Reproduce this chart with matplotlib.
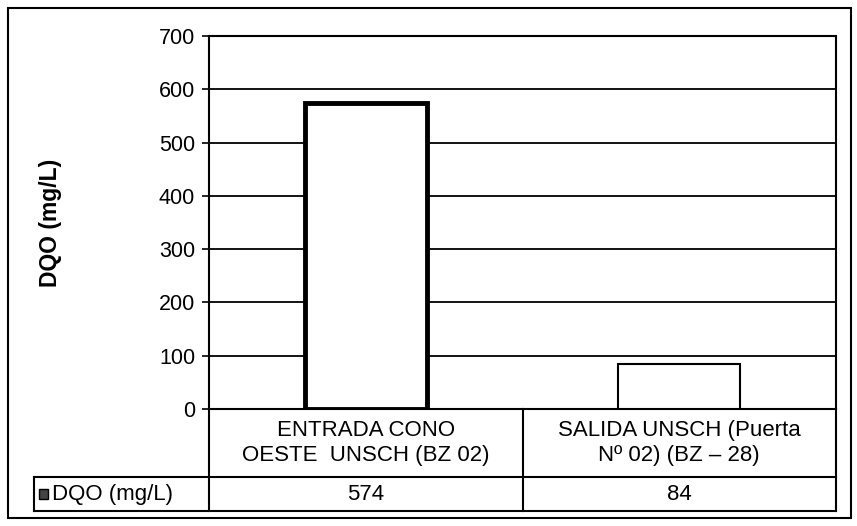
import matplotlib.pyplot as plt
from matplotlib.lines import Line2D
from matplotlib.patches import Rectangle

plt.rcParams['font.family'] = ['Liberation Sans', 'DejaVu Sans']

categories = ["ENTRADA CONO\nOESTE  UNSCH (BZ 02)", "SALIDA UNSCH (Puerta\nNº 02) (BZ \u2013 28)"]
dqo = [574, 84]
series_name = "DQO (mg/L)"
yticks = [0, 100, 200, 300, 400, 500, 600, 700]

fig = plt.figure(figsize=(8.57, 5.26), dpi=100)
ax = fig.add_axes([209/857, 1-409/526, 627/857, 373/526])

x = range(len(dqo))
ax.bar(x, dqo, width=0.39, color='white', edgecolor='black', linewidth=[3.5, 1.5], zorder=3)
ax.set_xlim(-0.5, len(dqo) - 0.5)
ax.set_ylim(0, 700)
ax.set_yticks(yticks)
ax.set_yticklabels([str(v) for v in yticks], fontsize=15.5)
ax.tick_params(axis='y', length=5, width=1.2, pad=5)
ax.set_xticks([])
ax.yaxis.grid(True, color='black', linewidth=1.3)
ax.set_axisbelow(True)
for s in ax.spines.values():
    s.set_linewidth(1.5)
ax.set_ylabel(series_name, fontsize=16.5, fontweight='bold', labelpad=70)

# data table below the plot
tr = ax.transAxes
r1, r2 = -0.1823, -0.2735
left = -0.279
lw = 1.5
def hline(y, x0, x1):
    ax.add_line(Line2D([x0, x1], [y, y], transform=tr, color='black', lw=lw, clip_on=False))
def vline(xv, y0, y1):
    ax.add_line(Line2D([xv, xv], [y0, y1], transform=tr, color='black', lw=lw, clip_on=False))
hline(r1, left, 1)
hline(r2, left, 1)
vline(0, 0, r2)
vline(0.5, 0, r2)
vline(1, 0, r2)
vline(left, r1, r2)

for i, (c, v) in enumerate(zip(categories, dqo)):
    xc = (i + 0.5) / len(dqo)
    ax.text(xc, r1 / 2, c, transform=tr, ha='center', va='center', fontsize=16, linespacing=1.2)
    ax.text(xc, (r1 + r2) / 2, str(v), transform=tr, ha='center', va='center', fontsize=16)

ax.add_patch(Rectangle((left + 0.008, (r1 + r2) / 2 - 0.014), 0.014, 0.028, transform=tr,
                       facecolor='#444444', edgecolor='black', lw=1, clip_on=False))
ax.text(left + 0.028, (r1 + r2) / 2, series_name, transform=tr, ha='left', va='center', fontsize=16)

# outer frame
fig.patches.append(Rectangle((8/857, 1-518/526), 843/857, 510/526, transform=fig.transFigure,
                             fill=False, edgecolor='black', lw=1.5))

fig.savefig('out.png', dpi=100)
